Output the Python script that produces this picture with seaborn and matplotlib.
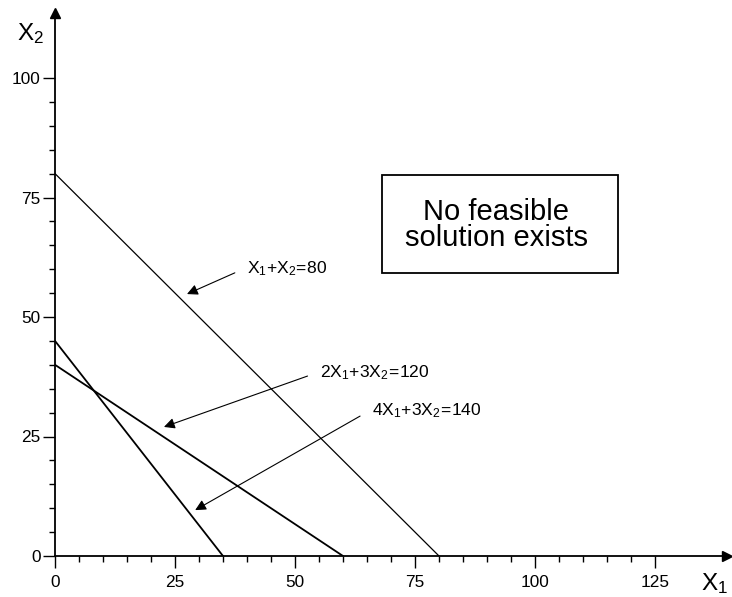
import matplotlib
matplotlib.use("Agg")
import matplotlib.pyplot as plt
import seaborn as sns
import pandas as pd
import numpy as np
from matplotlib.ticker import FixedLocator
from matplotlib.patches import Rectangle

sns.set_style("white")
plt.rcParams['font.family'] = ['Liberation Sans', 'DejaVu Sans']
plt.rcParams['mathtext.fontset'] = 'custom'
plt.rcParams['mathtext.rm'] = 'Liberation Sans'
plt.rcParams['mathtext.it'] = 'Liberation Sans'
plt.rcParams['text.color'] = 'black'
plt.rcParams['xtick.color'] = 'black'
plt.rcParams['ytick.color'] = 'black'
plt.rcParams['xtick.labelcolor'] = 'black'
plt.rcParams['ytick.labelcolor'] = 'black'

# Data: constraint lines given by their axis intercepts
line_names = ["X1+X2=80", "2X1+3X2=120", "4X1+3X2=140"]
x1_intercepts = [80, 60, 35]
x2_intercepts = [80, 40, 45]
line_widths = [0.9, 1.3, 1.3]

x_major = [0, 25, 50, 75, 100, 125]
y_major = [0, 25, 50, 75, 100]
x_minor = list(range(0, 130, 5))
y_minor = list(range(0, 105, 5))

labels = [r"$\mathrm{X}_1\mathrm{+X}_2\mathrm{\!=\!80}$",
          r"$\mathrm{2X}_1\mathrm{+3X}_2\mathrm{\!=\!120}$",
          r"$\mathrm{4X}_1\mathrm{+3X}_2\mathrm{\!=\!140}$"]
label_pos = [(40.0, 59.2), (55.2, 37.4), (66.0, 29.5)]
arrow_heads = [(27.5, 54.8), (22.7, 27.0), (29.2, 9.6)]

W, H = 732, 597
fig = plt.figure(figsize=(W / 100, H / 100), dpi=100)
x0, y0 = 55, 556
sx, sy = 4.8, 4.78
xmax, ymax = 140.0, 113.5
ax = fig.add_axes([x0 / W, (H - y0) / H, xmax * sx / W, ymax * sy / H])

for i, name in enumerate(line_names):
    df = pd.DataFrame({"x": [0, x1_intercepts[i]], "y": [x2_intercepts[i], 0]})
    sns.lineplot(data=df, x="x", y="y", ax=ax, color="black", lw=line_widths[i])

ax.set_xlim(0, xmax)
ax.set_ylim(0, ymax)
ax.set_xlabel("")
ax.set_ylabel("")

for s in ["top", "right"]:
    ax.spines[s].set_visible(False)
for s in ["left", "bottom"]:
    ax.spines[s].set_linewidth(1.3)
    ax.spines[s].set_color("black")

ax.xaxis.set_major_locator(FixedLocator(x_major))
ax.yaxis.set_major_locator(FixedLocator(y_major))
ax.xaxis.set_minor_locator(FixedLocator(x_minor))
ax.yaxis.set_minor_locator(FixedLocator(y_minor))
ax.tick_params(which="major", direction="out", length=8.5, width=1.0,
               labelsize=12.4, bottom=True, left=True)
ax.tick_params(which="minor", direction="out", length=4, width=1.0,
               bottom=True, left=True)
ax.tick_params(axis="x", which="major", pad=5)
ax.tick_params(axis="y", which="major", pad=2)
ax.set_xticklabels([str(v) for v in x_major])
ax.set_yticklabels([str(v) for v in y_major])

# axis arrows
ax.plot(1, 0, marker=">", color="k", markersize=7, transform=ax.transAxes, clip_on=False)
ax.plot(0, 1, marker="^", color="k", markersize=7, transform=ax.transAxes, clip_on=False)

# axis labels
fig.text(701 / W, 1 - 590 / H, r"$\mathrm{X}_1$", fontsize=17.5, ha="left", va="baseline")
fig.text(17 / W, 1 - 40 / H, r"$\mathrm{X}_2$", fontsize=17.5, ha="left", va="baseline")

# annotations
for lab, pos, head in zip(labels, label_pos, arrow_heads):
    ax.annotate(lab, xy=head, xytext=pos, fontsize=12.6, ha="left", va="baseline",
                arrowprops=dict(arrowstyle="-|>", color="black", lw=0.8,
                                mutation_scale=16, shrinkA=7, shrinkB=0,
                                relpos=(0, 0.55)))

# box
bx0, bx1 = (382 - x0) / sx, (618 - x0) / sx
by0, by1 = (y0 - 273) / sy, (y0 - 175) / sy
ax.add_patch(Rectangle((bx0, by0), bx1 - bx0, by1 - by0, fill=False, ec="black", lw=1.3))
ax.text((bx0 + bx1) / 2 - 0.8, (y0 - 225) / sy, "No feasible\nsolution exists",
        fontsize=21, ha="center", va="center", linespacing=0.95)

fig.savefig("out.png", dpi=100)
